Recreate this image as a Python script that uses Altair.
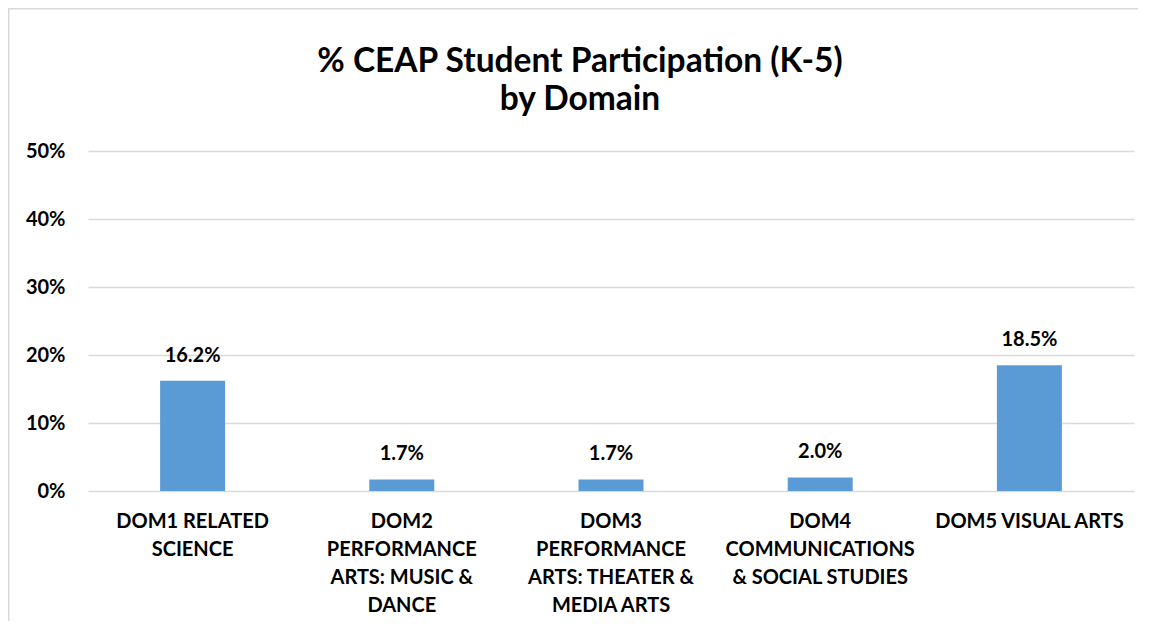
import altair as alt
import pandas as pd

categories = [
    "DOM1 RELATED|SCIENCE",
    "DOM2|PERFORMANCE|ARTS: MUSIC &|DANCE",
    "DOM3|PERFORMANCE|ARTS: THEATER &|MEDIA ARTS",
    "DOM4|COMMUNICATIONS|& SOCIAL STUDIES",
    "DOM5 VISUAL ARTS",
]
values = [0.162, 0.017, 0.017, 0.020, 0.185]
y_ticks = [0, 0.1, 0.2, 0.3, 0.4, 0.5]
title_lines = ["% CEAP Student Participation (K-5)", "by Domain"]

df = pd.DataFrame({"cat": categories, "val": values})

FONT = "Lato"
W, H = 1046, 340

x_enc = alt.X(
    "cat:N",
    sort=categories,
    scale=alt.Scale(paddingInner=0, paddingOuter=0),
    axis=alt.Axis(
        title=None,
        labelExpr="split(datum.value, '|')",
        labelAngle=0,
        labelFont=FONT,
        labelFontWeight="bold",
        labelFontSize=20,
        labelColor="black",
        labelLineHeight=28,
        labelPadding=20,
        labelLimit=300,
        domain=False,
        ticks=False,
        labelBaseline="top",
    ),
)
y_enc = alt.Y(
    "val:Q",
    scale=alt.Scale(domain=[0, 0.5]),
    axis=alt.Axis(
        title=None,
        values=y_ticks,
        format=".0%",
        labelFont=FONT,
        labelFontWeight="bold",
        labelFontSize=20,
        labelColor="black",
        labelPadding=23,
        domain=False,
        ticks=False,
        gridColor="#d9d9d9",
        gridWidth=1.3,
    ),
)

base = alt.Chart(df).encode(x=x_enc, y=y_enc)

bars = base.mark_bar(color="#5B9BD5", size=65)
labels = base.mark_text(
    dy=-19, baseline="alphabetic", font=FONT, fontWeight="bold", fontSize=20, color="black"
).encode(text=alt.Text("val:Q", format=".1%"))

frame = alt.Chart(alt.Data(values=[{"a": 1}])).mark_rect(
    fill=None, stroke="#d9d9d9", strokeWidth=2
).encode(
    x=alt.value(-79.5), x2=alt.value(W + 300),
    y=alt.value(-142.5), y2=alt.value(H + 400),
)

chart = alt.layer(frame, bars, labels).properties(
    width=W,
    height=H,
    padding={"left": 80, "top": 143, "right": 4, "bottom": 130},
    autosize=alt.AutoSizeParams(type="none"),
    title=alt.Title(
        title_lines,
        font=FONT,
        fontSize=33.5,
        fontWeight="bold",
        color="black",
        anchor="middle",
        baseline="alphabetic",
        dx=-31,
        offset=-136,
        lineHeight=38,
    ),
).configure_view(stroke=None)

chart.save("out.html", embed_options={"renderer": "svg", "actions": False})
